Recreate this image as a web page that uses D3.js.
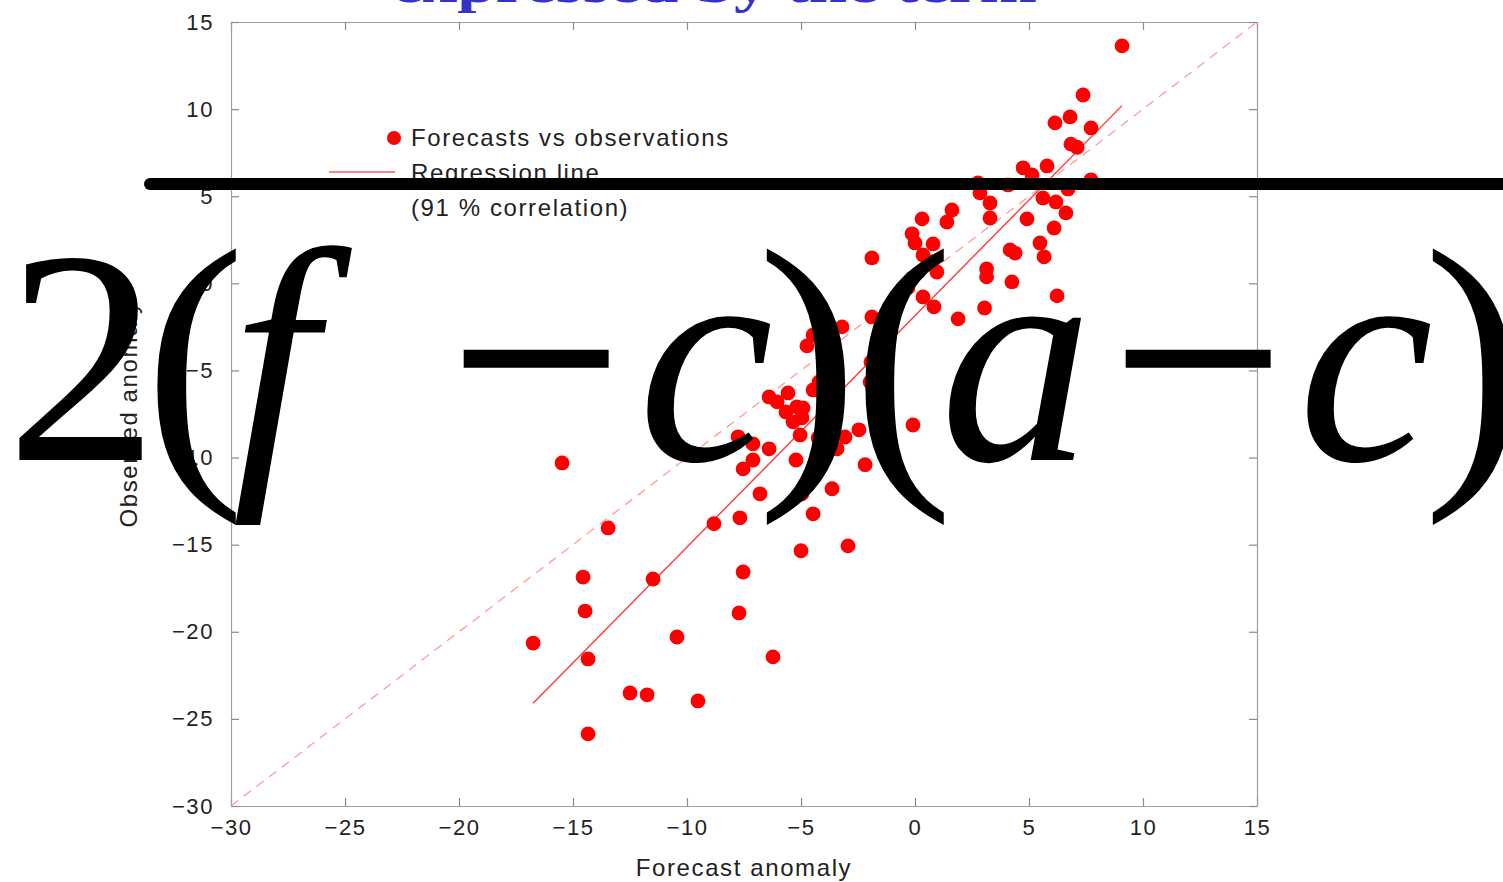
<!DOCTYPE html>
<html>
<head>
<meta charset="utf-8">
<script src="https://cdn.jsdelivr.net/npm/d3@7"></script>
<style>
  body { margin: 0; background: #fff; }
  svg { display: block; }
</style>
</head>
<body>
<svg id="chart" width="1503" height="882"></svg>
<script>
// ticks shared by both axes
var xTicks = [-30, -25, -20, -15, -10, -5, 0, 5, 10, 15]
var yTicks = [-30, -25, -20, -15, -10, -5, 0, 5, 10, 15]

// forecast anomaly vs observed anomaly
var fcst = [9.08, 7.37, 6.80, 6.14, 7.72, 6.84, 7.11, 5.79, 4.74, 5.13,
  2.76, 4.08, 6.71, 7.72, 2.85, 3.29, 5.61, 6.18, 6.62, 6.10,
  4.91, 3.29, 1.62, 1.40, 0.31, -0.13, 0.00, 0.79, 0.35, 0.75,
  0.96, -0.13, -0.31, 0.35, 0.83, -1.89, 4.17, 4.39, 5.48, 5.66,
  3.14, 3.14, 4.25, 6.23, 3.05, 1.89, -1.89, -1.54, -3.20, -4.47,
  -4.74, -1.93, -1.97, -4.21, -4.47, -5.57, -6.40, -6.05, -5.66, -5.18,
  -4.91, -5.35, -4.96, -5.04, -7.76, -7.11, -6.40, -7.11, -7.54, -5.22,
  -4.25, -3.07, -2.46, -3.42, -2.19, -0.09, -6.80, -3.64, -4.96, -7.68,
  -8.82, -4.47, -5.00, -2.94, -15.48, -13.46, -14.56, -14.47, -16.75, -14.34,
  -12.50, -11.75, -14.34, -9.52, -10.44, -11.49, -7.54, -7.72, -6.23]
var obs = [13.63, 10.81, 9.55, 9.21, 8.92, 7.99, 7.81, 6.74, 6.63, 6.22,
  5.76, 5.65, 5.42, 5.94, 5.19, 4.61, 4.90, 4.67, 4.04, 3.18,
  3.70, 3.75, 4.21, 3.52, 3.70, 2.84, 2.32, 2.26, 1.63, 1.23,
  0.65, 0.31, -0.26, -0.78, -1.35, 1.46, 1.92, 1.74, 2.32, 1.52,
  0.83, 0.37, 0.08, -0.72, -1.41, -2.04, -1.93, -3.30, -2.50, -2.96,
  -3.59, -4.51, -5.66, -5.66, -6.12, -6.29, -6.52, -6.80, -7.38, -7.09,
  -7.15, -7.95, -7.72, -8.70, -8.81, -9.21, -9.50, -10.14, -10.65, -10.14,
  -8.87, -8.82, -8.41, -9.50, -10.41, -8.13, -12.08, -11.79, -12.08, -13.46,
  -13.80, -13.23, -15.35, -15.07, -10.31, -14.04, -16.86, -18.81, -20.65, -21.56,
  -23.51, -23.62, -25.86, -23.97, -20.30, -16.97, -16.57, -18.92, -21.44]

// regression line ends and the 1:1 diagonal
var regFcst = [-16.75, 9.08]
var regObs = [-24.1, 10.2]
var diag = [-30, 15]

var legendLabels = ['Forecasts vs observations', 'Regression line', '(91 % correlation)']

var svg = d3.select('#chart')
svg.append('rect').attr('width', 1503).attr('height', 882).attr('fill', '#fff')

var x = d3.scaleLinear().domain([-30, 15]).range([231, 1257])
var y = d3.scaleLinear().domain([-30, 15]).range([806, 22])

var fmt = d3.format('d')
var sans = 'Liberation Sans, Arial, sans-serif'

///////////// AXES (gnuplot style, ticks inside, mirrored) /////////////
function styleAxis(g, labels){
  g.select('.domain').attr('stroke', '#a0a0a0').attr('stroke-width', 1.2)
  g.selectAll('.tick line').attr('stroke', '#8a8a8a').attr('stroke-width', 1.2)
  g.selectAll('.tick text')
    .attr('font-family', sans)
    .attr('font-size', 22)
    .attr('letter-spacing', 1.6)
    .attr('fill', '#222')
  if(!labels) g.selectAll('.tick text').remove()
}

svg.append('g').attr('transform', 'translate(0,806)')
  .call(d3.axisBottom(x).tickValues(xTicks).tickFormat(fmt).tickSize(-8).tickSizeOuter(0).tickPadding(13))
  .call(styleAxis, true)
svg.append('g').attr('transform', 'translate(0,22)')
  .call(d3.axisTop(x).tickValues(xTicks).tickSize(-8).tickSizeOuter(0))
  .call(styleAxis, false)
svg.append('g').attr('transform', 'translate(231,0)')
  .call(d3.axisLeft(y).tickValues(yTicks).tickFormat(fmt).tickSize(-8).tickSizeOuter(0).tickPadding(17))
  .call(styleAxis, true)
svg.append('g').attr('transform', 'translate(1257,0)')
  .call(d3.axisRight(y).tickValues(yTicks).tickSize(-8).tickSizeOuter(0))
  .call(styleAxis, false)

svg.append('text')
  .attr('x', 744).attr('y', 876)
  .attr('text-anchor', 'middle')
  .attr('font-family', sans)
  .attr('font-size', 24).attr('letter-spacing', 1.6).attr('fill', '#222')
  .text('Forecast anomaly')

svg.append('text')
  .attr('transform', 'translate(137,414) rotate(-90)')
  .attr('text-anchor', 'middle')
  .attr('font-family', sans)
  .attr('font-size', 24).attr('letter-spacing', 1.6).attr('fill', '#222')
  .text('Observed anomaly')

///////////// LINES /////////////
var line = d3.line().x(function(d){ return x(d[0]) }).y(function(d){ return y(d[1]) })

svg.append('path')
  .datum(diag.map(function(v){ return [v, v] }))
  .attr('d', line)
  .attr('fill', 'none')
  .attr('stroke', '#ff9a9a')
  .attr('stroke-width', 1.3)
  .attr('stroke-dasharray', '9,7')

svg.append('path')
  .datum(regFcst.map(function(v, i){ return [v, regObs[i]] }))
  .attr('d', line)
  .attr('fill', 'none')
  .attr('stroke', '#ff3a3a')
  .attr('stroke-width', 1.4)

///////////// POINTS /////////////
var dataset = fcst.map(function(v, i){ return [v, obs[i]] })
svg.selectAll('circle.pt')
  .data(dataset)
  .enter()
  .append('circle')
  .attr('class', 'pt')
  .attr('cx', function(d){ return x(d[0]) })
  .attr('cy', function(d){ return y(d[1]) })
  .attr('r', 7.4)
  .attr('fill', '#ff0000')

///////////// LEGEND /////////////
var leg = svg.append('g').attr('font-family', sans)
  .attr('font-size', 24).attr('letter-spacing', 1.6).attr('fill', '#222')
leg.append('circle').attr('cx', 394).attr('cy', 138).attr('r', 7).attr('fill', '#ff0000')
leg.append('line').attr('x1', 329).attr('x2', 395).attr('y1', 172).attr('y2', 172)
  .attr('stroke', '#ff5a5a').attr('stroke-width', 1.5)
leg.selectAll('text')
  .data(legendLabels)
  .enter()
  .append('text')
  .attr('x', 411)
  .attr('y', function(d, i){ return 146 + i * 35 })
  .text(function(d){ return d })

///////////// SLIDE OVERLAY: title + formula /////////////
svg.append('text')
  .attr('x', 392).attr('y', 2)
  .attr('font-family', 'Liberation Serif, Times New Roman, serif')
  .attr('font-weight', 'bold')
  .attr('font-size', 52)
  .attr('fill', '#3333cc')
  .attr('textLength', 645).attr('lengthAdjust', 'spacingAndGlyphs')
  .text('expressed by the term')

svg.append('line')
  .attr('x1', 150).attr('x2', 1520).attr('y1', 184).attr('y2', 184)
  .attr('stroke', '#000').attr('stroke-width', 12).attr('stroke-linecap', 'round')

var glyphs = [
  {t: '2', x: 6, it: false},
  {t: '(', x: 144, it: false},
  {t: 'f', x: 232, it: true},
  {t: '\u2212', x: 450, it: false},
  {t: 'c', x: 638, it: true},
  {t: ')', x: 757, it: false},
  {t: '(', x: 852, it: false},
  {t: 'a', x: 940, it: true},
  {t: '\u2212', x: 1112, it: false},
  {t: 'c', x: 1298, it: true},
  {t: ')', x: 1423, it: false}
]
svg.append('g')
  .attr('font-family', 'Liberation Serif, Times New Roman, serif')
  .attr('font-size', 305)
  .attr('fill', '#000')
  .selectAll('text')
  .data(glyphs)
  .enter()
  .append('text')
  .attr('x', function(d){ return d.x })
  .attr('y', 460)
  .attr('font-style', function(d){ return d.it ? 'italic' : 'normal' })
  .attr('stroke', '#000')
  .attr('stroke-width', function(d){ return d.t === '\u2212' ? 3 : 0 })
  .text(function(d){ return d.t })
</script>
</body>
</html>
